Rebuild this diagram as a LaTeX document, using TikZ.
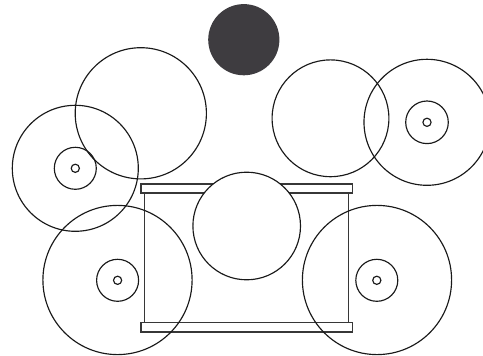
\documentclass[tikz,border=0pt]{standalone}
\definecolor{cymbalgray}{RGB}{62,60,64}
\definecolor{linegray}{RGB}{25,25,25}
\definecolor{shellgray}{RGB}{55,55,55}
\begin{document}
\begin{tikzpicture}[x=1pt,y=-1pt,
  ring/.style={draw=linegray,line width=1.15pt},
  shell/.style={draw=shellgray,line width=1.5pt},
  bar/.style={draw=shellgray,line width=1.5pt,fill=white}]
\useasboundingbox (0,0) rectangle (483,356);
% cymbal (filled)
\fill[cymbalgray] (243.8,39.7) circle (35.6);
% top-left plain circle
\draw[ring] (140.8,113.3) circle (65.6);
% left tom with rings
\draw[ring] (75.3,168.3) circle (63);
\draw[ring] (75.3,168.3) circle (21);
\draw[ring] (75.3,168.3) circle (4.1);
% top-right plain circle
\draw[ring] (330.5,118.3) circle (58.4);
% right tom with rings
\draw[ring] (427,122.3) circle (63);
\draw[ring] (427,122.3) circle (21.3);
\draw[ring] (427,122.3) circle (4.1);
% drum shell
\draw[shell] (144.7,193) -- (144.7,322.7);
\draw[shell] (348.7,193) -- (348.7,322.7);
\draw[bar] (141,184) rectangle (352.3,193);
\draw[bar] (141,322.7) rectangle (352.3,332);
% bottom-left with rings
\draw[ring] (117.5,280) circle (74.6);
\draw[ring] (117.6,280.3) circle (21);
\draw[ring] (117.6,280.3) circle (4.1);
% bottom-right with rings
\draw[ring] (377,280) circle (74.6);
\draw[ring] (376.8,280.3) circle (21);
\draw[ring] (376.8,280.3) circle (4.1);
% middle circle (white fill)
\draw[ring,fill=white] (246.7,226) circle (53.8);
\end{tikzpicture}
\end{document}
